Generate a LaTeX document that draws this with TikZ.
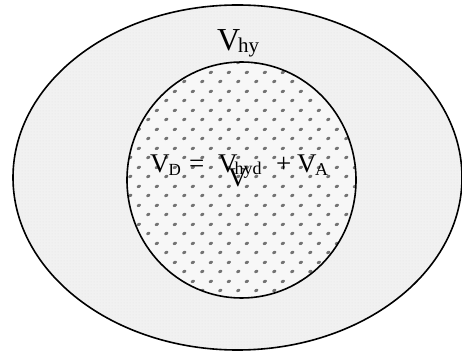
\documentclass[tikz,border=0pt]{standalone}
\usepackage{fontspec}
\setmainfont{Liberation Serif}
\usetikzlibrary{patterns.meta}
\tikzdeclarepattern{name=innerdots, type=uncolored,
  bounding box={(0,0) and (18pt,19pt)}, tile size={(18pt,19pt)},
  code={\fill[rotate around={25:(4.5pt,4.75pt)}] (4.5pt,4.75pt) ellipse (2.3pt and 1.6pt);
        \fill[rotate around={25:(13.5pt,14.25pt)}] (13.5pt,14.25pt) ellipse (2.3pt and 1.6pt);}}
\tikzdeclarepattern{name=outerdots, type=uncolored,
  bounding box={(0,0) and (3pt,3pt)}, tile size={(3pt,3pt)},
  code={\fill (1.5pt,1.5pt) circle (0.6pt);}}
\tikzset{
  rim/.style={draw=black, line width=1.6pt},
  lbl/.style={anchor=base west, inner sep=0pt, outer sep=0pt},
  big/.style={font=\fontsize{32}{32}\selectfont},
  mid/.style={font=\fontsize{27}{27}\selectfont}
}
\newcommand\lowsub[3]{{\fontsize{#1}{#1}\selectfont\raisebox{-#2}{#3}}}
\begin{document}
\begin{tikzpicture}[x=1pt,y=-1pt]
\useasboundingbox (0,0) rectangle (462,352);
% outer region
\fill[gray!11] (237.5,177.5) ellipse (224.5pt and 172.5pt);
\fill[pattern=outerdots, pattern color=gray!22] (237.5,177.5) ellipse (224.5pt and 172.5pt);
\draw[rim] (237.5,177.5) ellipse (224.5pt and 172.5pt);
% inner region
\fill[gray!6] (241.5,180) ellipse (114.5pt and 118pt);
\fill[pattern=innerdots, pattern color=black!55] (241.5,180) ellipse (114.5pt and 118pt);
\draw[rim] (241.5,180) ellipse (114.5pt and 118pt);
% labels
\node[lbl, big] (vhy) at (217,51) {V\kern-2pt\lowsub{21}{2pt}{hy}};
\node[lbl, mid] (vd) at (150,173) {V\kern-1pt\lowsub{17}{3pt}{D}};
\node[lbl, mid] (eq) at (189,173) {=};
\node[lbl, mid] (vhyd) at (218,173) {V\kern-3pt\lowsub{18}{2pt}{hyd}};
\node[lbl, mid] (plus) at (276,173) {+};
\node[lbl, mid] (va) at (297,173) {V\kern-1.5pt\lowsub{18}{3pt}{A}};
\node[lbl, mid] (stray) at (228,187) {V};
\end{tikzpicture}
\end{document}
